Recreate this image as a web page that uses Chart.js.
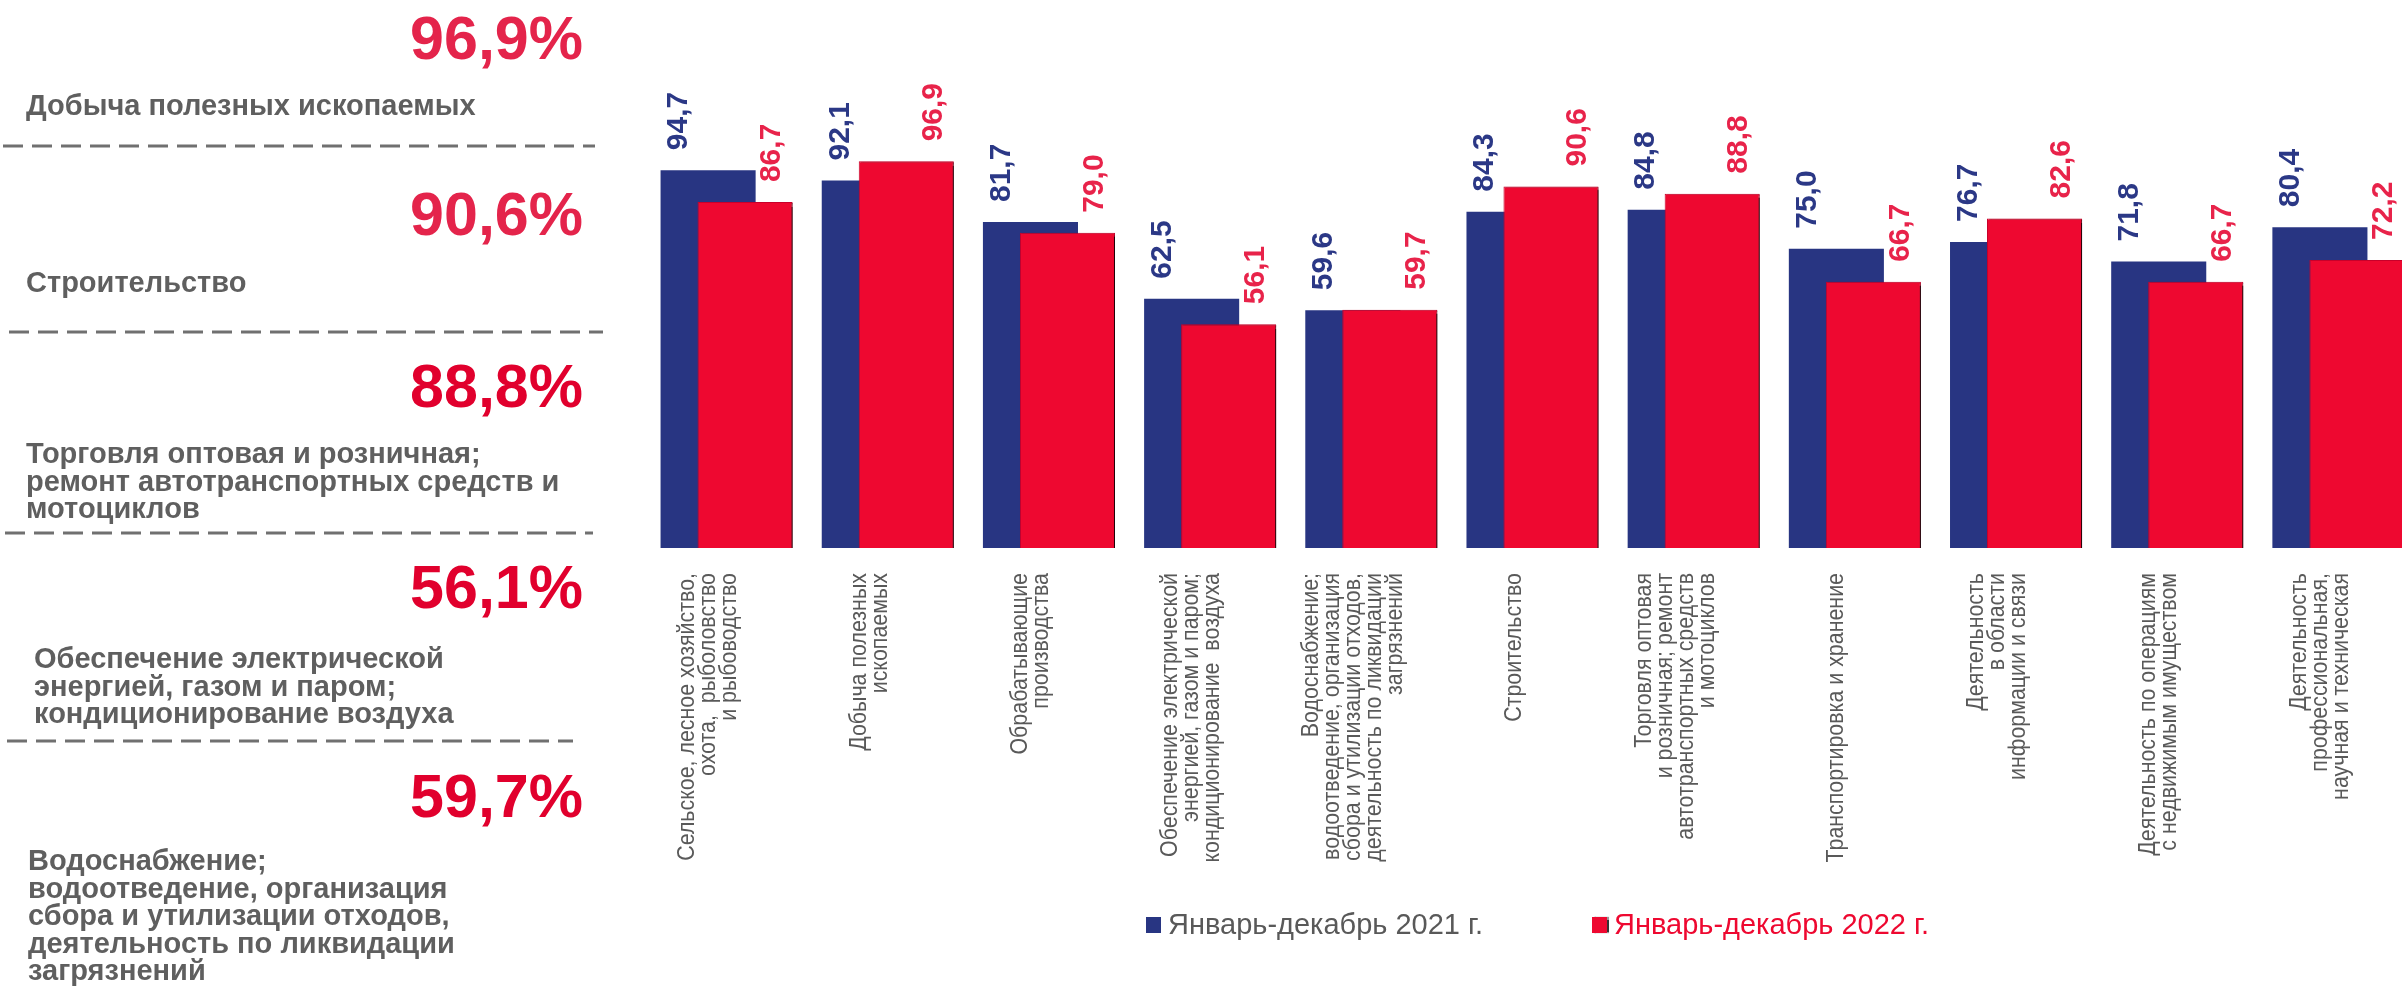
<!DOCTYPE html>
<html lang="ru">
<head>
<meta charset="utf-8">
<script src="https://cdn.jsdelivr.net/npm/chart.js@4.4.1/dist/chart.umd.min.js"></script>
<style>
  html, body { margin: 0; padding: 0; background: #fff; overflow: hidden; }
  /* the last category runs slightly past the right edge of the picture */
  #wrap { position: relative; width: 2419px; height: 987px; }
</style>
</head>
<body>
<div id="wrap"><canvas id="chart"></canvas></div>
<script>
const categories = [
  ["Сельское, лесное хозяйство,", "охота,  рыболовство", "и рыбоводство"],
  ["Добыча полезных", "ископаемых"],
  ["Обрабатывающие", "производства"],
  ["Обеспечение электрической", "энергией, газом и паром;", "кондиционирование  воздуха"],
  ["Водоснабжение;", "водоотведение, организация", "сбора и утилизации отходов,", "деятельность по ликвидации", "загрязнений"],
  ["Строительство"],
  ["Торговля оптовая", "и розничная; ремонт", "автотранспортных средств", "и мотоциклов"],
  ["Транспортировка и хранение"],
  ["Деятельность", "в области", "информации и связи"],
  ["Деятельность по операциям", "с недвижимым имуществом"],
  ["Деятельность", "профессиональная,", "научная и техническая"],
];
const values2021 = [94.7, 92.1, 81.7, 62.5, 59.6, 84.3, 84.8, 75.0, 76.7, 71.8, 80.4];
const values2022 = [86.7, 96.9, 79.0, 56.1, 59.7, 90.6, 88.8, 66.7, 82.6, 66.7, 72.2];
const seriesNames = ["Январь-декабрь 2021 г.", "Январь-декабрь 2022 г."];

// left panel: which categories are highlighted and how their names wrap
const panelIndex = [1, 5, 6, 3, 4];
const panelText = [
  ["Добыча полезных ископаемых"],
  ["Строительство"],
  ["Торговля оптовая и розничная;", "ремонт автотранспортных средств и", "мотоциклов"],
  ["Обеспечение электрической", "энергией, газом и паром;", "кондиционирование воздуха"],
  ["Водоснабжение;", "водоотведение, организация", "сбора и утилизации отходов,", "деятельность по ликвидации", "загрязнений"],
];

const BLUE = "#283582";
const RED = "#ee0830";
const GREY = "#595959";
const FONT = "'Liberation Sans', Arial, sans-serif";
const fmt = (v) => v.toFixed(1).replace(".", ",");

// layout of the left panel (pixels)
const panelLayout = [
  { pctY: 59, textX: 26, textY: 115, line: [3, 595, 146], pctColor: "#e4244b" },
  { pctY: 235, textX: 26, textY: 292, line: [9, 603, 332], pctColor: "#e4244b" },
  { pctY: 407, textX: 26, textY: 463, line: [5, 593, 533], pctColor: "#e1002d" },
  { pctY: 608, textX: 34, textY: 668, line: [7, 573, 741], pctColor: "#e1002d" },
  { pctY: 817, textX: 28, textY: 870, line: null, pctColor: "#e1002d" },
];

const sidePanel = {
  id: "sidePanel",
  afterDraw(chart) {
    const ctx = chart.ctx;
    ctx.save();
    panelLayout.forEach((p, k) => {
      ctx.fillStyle = p.pctColor;
      ctx.font = "bold 61px " + FONT;
      ctx.textAlign = "right";
      ctx.textBaseline = "alphabetic";
      ctx.fillText(fmt(values2022[panelIndex[k]]) + "%", 583, p.pctY);

      ctx.fillStyle = "#5f5f5f";
      ctx.font = "bold 29px " + FONT;
      ctx.textAlign = "left";
      panelText[k].forEach((t, i) => ctx.fillText(t, p.textX, p.textY + i * 27.6));

      if (p.line) {
        ctx.strokeStyle = "#707070";
        ctx.lineWidth = 3;
        ctx.setLineDash([20, 9]);
        ctx.beginPath();
        ctx.moveTo(p.line[0], p.line[2]);
        ctx.lineTo(p.line[1], p.line[2]);
        ctx.stroke();
      }
    });
    ctx.restore();
  },
};

// rotated category names under the bars, centred a bit left of each tick
const axisLabels = {
  id: "axisLabels",
  afterDraw(chart) {
    const ctx = chart.ctx;
    const xs = chart.scales.x;
    const lh = 21;
    ctx.save();
    ctx.fillStyle = GREY;
    ctx.font = "23px " + FONT;
    ctx.textAlign = "right";
    ctx.textBaseline = "middle";
    categories.forEach((lines, i) => {
      const xc = xs.getPixelForTick(i) - 18;
      lines.forEach((t, k) => {
        ctx.save();
        ctx.translate(xc + (k - (lines.length - 1) / 2) * lh, chart.chartArea.bottom + 25);
        ctx.rotate(-Math.PI / 2);
        ctx.scale(0.93, 1); // the source font is a little narrower
        ctx.fillText(t, 0, 0);
        ctx.restore();
      });
    });
    ctx.restore();
  },
};

// legend under the axis labels
const legendBox = {
  id: "legendBox",
  afterDraw(chart) {
    const ctx = chart.ctx;
    const items = [
      { x: 1146, color: BLUE, text: GREY },
      { x: 1592, color: RED, text: RED },
    ];
    ctx.save();
    ctx.font = "29px " + FONT;
    ctx.textAlign = "left";
    ctx.textBaseline = "middle";
    items.forEach((it, i) => {
      ctx.save();
      if (i === 1) {
        ctx.shadowColor = "rgba(0,0,0,0.8)";
        ctx.shadowOffsetX = 1.5;
        ctx.shadowBlur = 1;
      }
      ctx.fillStyle = it.color;
      ctx.fillRect(it.x, 917, 15, 16);
      ctx.restore();
      ctx.fillStyle = it.text;
      ctx.fillText(seriesNames[i], it.x + 22, 926);
    });
    ctx.restore();
  },
};

const barLabels = {
  id: "barLabels",
  afterDatasetsDraw(chart) {
    const ctx = chart.ctx;
    ctx.save();
    ctx.font = "bold 30px " + FONT;
    ctx.textAlign = "left";
    ctx.textBaseline = "middle";
    chart.data.datasets.forEach((ds, i) => {
      const meta = chart.getDatasetMeta(i);
      ctx.fillStyle = i === 0 ? "#2b3886" : "#e8234a";
      meta.data.forEach((bar, j) => {
        ctx.save();
        ctx.translate(bar.x + (i === 0 ? -29 : 27), bar.y - 20);
        ctx.rotate(-Math.PI / 2);
        ctx.fillText(fmt(ds.data[j]), 0, 0);
        ctx.restore();
      });
    });
    ctx.restore();
  },
};

// Chart.js paints dataset 0 last; paint the 2022 bars after it instead,
// with a small shadow on their right edge
const redOnTop = {
  id: "redOnTop",
  beforeDatasetDraw(chart, args) {
    if (args.index === 1) return false;
  },
  afterDatasetDraw(chart, args) {
    if (args.index !== 0) return;
    const ctx = chart.ctx;
    ctx.save();
    ctx.shadowColor = "rgba(0,0,0,0.85)";
    ctx.shadowOffsetX = 2;
    ctx.shadowOffsetY = 1;
    ctx.shadowBlur = 1;
    chart.getDatasetMeta(1).controller.draw();
    ctx.restore();
  },
};

new Chart(document.getElementById("chart"), {
  type: "bar",
  data: {
    labels: categories,
    datasets: [
      {
        label: seriesNames[0],
        data: values2021,
        backgroundColor: BLUE,
        borderWidth: 0,
      },
      {
        label: seriesNames[1],
        data: values2022,
        backgroundColor: RED,
        borderColor: "#c8002a",
        borderWidth: 1,
      },
    ],
  },
  options: {
    responsive: true,
    maintainAspectRatio: false,
    devicePixelRatio: 1,
    animation: false,
    categoryPercentage: 0.459,
    barPercentage: 2.57,
    layout: { padding: { left: 646, right: 0, top: 149, bottom: 0 } },
    scales: {
      x: {
        offset: true,
        grid: { display: false, drawTicks: false },
        border: { display: false },
        ticks: { display: false },
        afterFit(scale) {
          scale.height = 439;
        },
      },
      y: {
        display: false,
        min: 0,
        max: 100,
      },
    },
    plugins: {
      tooltip: { enabled: false },
      legend: { display: false },
    },
  },
  plugins: [redOnTop, barLabels, axisLabels, legendBox, sidePanel],
});
</script>
</body>
</html>
